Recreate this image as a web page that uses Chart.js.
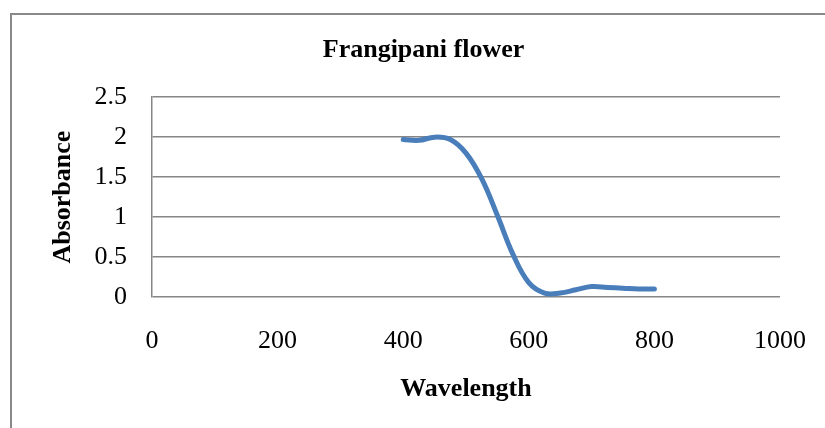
<!DOCTYPE html>
<html>
<head>
<meta charset="utf-8">
<script src="https://cdn.jsdelivr.net/npm/chart.js@4.4.0/dist/chart.umd.min.js"></script>
<style>
  html, body { margin: 0; padding: 0; background: #fff; }
  #wrap { width: 825px; height: 428px; }
</style>
</head>
<body>
<div id="wrap"><canvas id="myChart" width="825" height="428"></canvas></div>
<script>
const wavelength = [400, 425, 450, 475, 500, 525, 550, 575, 600, 625, 650, 675, 700, 725, 750, 775, 800];
const absorbance = [1.97, 1.96, 2.00, 1.97, 1.80, 1.48, 1.02, 0.53, 0.18, 0.05, 0.05, 0.09, 0.13, 0.12, 0.11, 0.10, 0.10];
const xTicks = [0, 200, 400, 600, 800, 1000];
const yTicks = [0, 0.5, 1, 1.5, 2, 2.5];

const serif = "'Liberation Serif', 'Times New Roman', serif";

// grey frame on the left and top, like the cropped Excel chart border
const framePlugin = {
  id: 'frame',
  beforeDraw(chart) {
    const c = chart.ctx;
    c.save();
    c.fillStyle = '#ffffff';
    c.fillRect(0, 0, chart.width, chart.height);
    c.fillStyle = '#898989';
    c.fillRect(10, 13, 2, chart.height - 13);
    c.fillRect(10, 13, chart.width - 10, 2);
    c.restore();
  }
};

const ctx = document.getElementById('myChart').getContext('2d');
const myChart = new Chart(ctx, {
  type: 'scatter',
  data: {
    datasets: [{
      label: 'Frangipani flower',
      data: wavelength.map((w, i) => ({ x: w, y: absorbance[i] })),
      showLine: true,
      borderColor: '#4a7ebb',
      backgroundColor: '#4a7ebb',
      borderWidth: 5,
      borderCapStyle: 'round',
      borderJoinStyle: 'round',
      pointRadius: 0,
      tension: 0.4
    }]
  },
  options: {
    responsive: false,
    animation: false,
    layout: { padding: { left: 22, right: 0, top: 0, bottom: 0 } },
    plugins: {
      legend: { display: false },
      tooltip: { enabled: false },
      title: {
        display: true,
        text: 'Frangipani flower',
        color: '#000',
        font: { family: serif, size: 26, weight: 'bold', lineHeight: 1.2 },
        padding: { top: 35, bottom: 31 }
      }
    },
    scales: {
      x: {
        type: 'linear',
        min: 0,
        max: 1000,
        afterBuildTicks(axis) { axis.ticks = xTicks.map(v => ({ value: v })); },
        afterFit(axis) { axis.height = 131; axis.paddingRight = 45; },
        grid: { display: false },
        border: { display: false },
        ticks: {
          color: '#000',
          padding: 21,
          maxRotation: 0,
          callback: v => String(v),
          font: { family: serif, size: 26, lineHeight: 1.2 }
        },
        title: {
          display: true,
          text: 'Wavelength',
          color: '#000',
          font: { family: serif, size: 26, weight: 'bold', lineHeight: 1.2 },
          padding: { top: 0, bottom: 23 }
        }
      },
      y: {
        min: 0,
        max: 2.5,
        afterBuildTicks(axis) { axis.ticks = yTicks.map(v => ({ value: v })); },
        afterFit(axis) { axis.width = 130; },
        grid: { color: '#868686', lineWidth: 1.5, drawTicks: false },
        border: { display: true, color: '#868686', width: 1.5 },
        ticks: {
          color: '#000',
          padding: 25,
          callback: v => String(v),
          font: { family: serif, size: 26, lineHeight: 1.2 }
        },
        title: {
          display: true,
          text: 'Absorbance',
          color: '#000',
          font: { family: serif, size: 26, weight: 'bold', lineHeight: 1.2 },
          padding: { top: 26, bottom: 0 }
        }
      }
    }
  },
  plugins: [framePlugin]
});
</script>
</body>
</html>
